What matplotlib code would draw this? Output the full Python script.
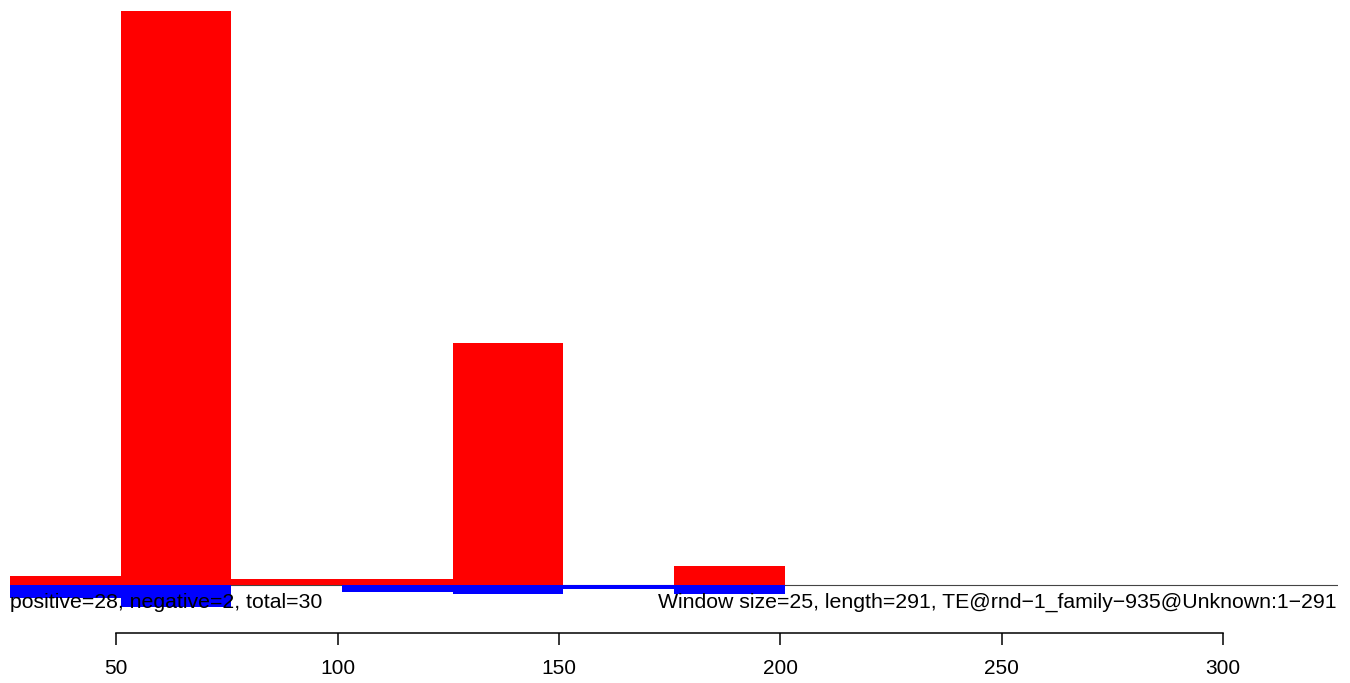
import numpy as np
import matplotlib
matplotlib.use('Agg')
import matplotlib.pyplot as plt
from matplotlib.transforms import blended_transform_factory

# window start positions (window size 25)
win_start = [26, 51, 76, 101, 126, 151, 176, 201, 226, 251, 276]
win_size = 25
# positive / negative strand signal per window
pos_vals = [1.57, 100.0, 1.05, 1.05, 42.2, 0.0, 3.31, 0.0, 0.0, 0.0, 0.0]
neg_vals = [2.26, 3.83, 0.0, 1.22, 1.57, 0.61, 1.57, 0.0, 0.0, 0.0, 0.0]

x_ticks = [50, 100, 150, 200, 250, 300]
left_label = 'positive=28, negative=2, total=30'
right_label = 'Window size=25, length=291, TE@rnd\u22121_family\u2212935@Unknown:1\u2212291'

plt.rcParams['font.family'] = ['Liberation Sans', 'DejaVu Sans']

fig = plt.figure(figsize=(13.5, 6.83), dpi=100)
W, H = 1350, 683
ax = fig.add_axes([10 / W, (H - 632.7) / H, 1328 / W, 632.7 / H])

ax.axhline(0, color='#444444', linewidth=0.8, zorder=1)
ax.bar(win_start, pos_vals, width=win_size, align='edge', color='#ff0000', linewidth=0, zorder=2)
ax.bar(win_start, [-v for v in neg_vals], width=win_size, align='edge', color='#0000ff', linewidth=0, zorder=2)

ax.set_xlim(26, 326)
ax.set_ylim(-47.7 / 5.74, 585 / 5.74)

for s in ['top', 'right', 'left']:
    ax.spines[s].set_visible(False)
ax.spines['bottom'].set_bounds(x_ticks[0], x_ticks[-1])
ax.spines['bottom'].set_linewidth(1.1)
ax.set_yticks([])
ax.set_xticks(x_ticks)
ax.set_xticklabels([str(t) for t in x_ticks])
ax.tick_params(axis='x', length=8.6, width=1.1, pad=10, labelsize=15)

trans = blended_transform_factory(ax.transAxes, ax.transData)
ax.text(0, -4.0, left_label, transform=trans, ha='left', va='baseline', fontsize=15.3, zorder=3)
ax.text(0.9985, -4.0, right_label, transform=trans, ha='right', va='baseline', fontsize=15.3, zorder=3)

fig.savefig('out.png', dpi=100)
